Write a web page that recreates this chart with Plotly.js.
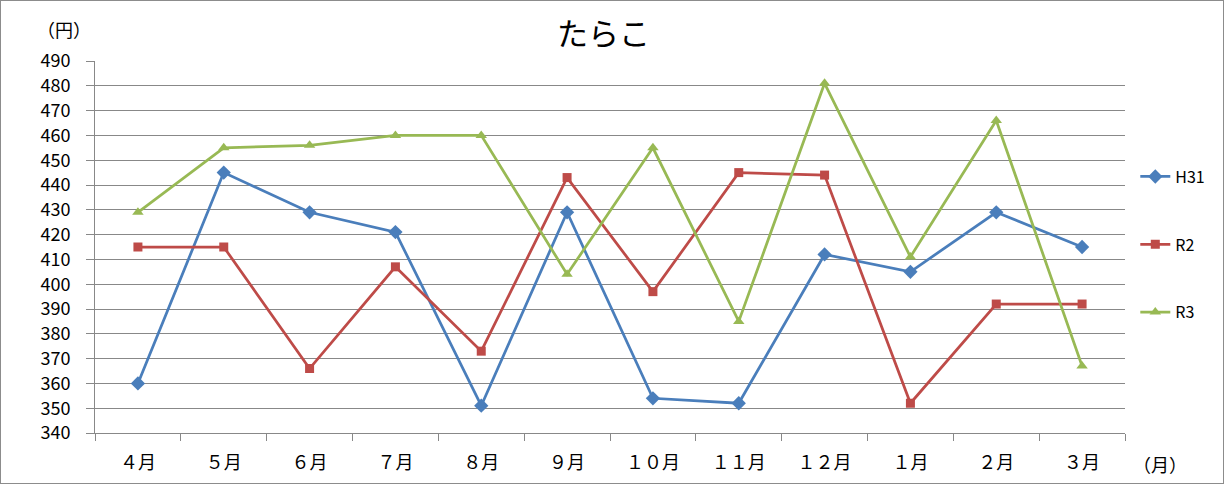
<!DOCTYPE html>
<html>
<head>
<meta charset="utf-8">
<script src="https://cdn.plot.ly/plotly-3.0.1.min.js"></script>
<style>
  body { margin: 0; background: #fff; }
  #wrap { position: relative; width: 1224px; height: 484px; }
  #frame { position: absolute; left: 0; top: 0; width: 1224px; height: 484px; box-sizing: border-box; border: 1px solid #8c8c8c; pointer-events: none; }
</style>
</head>
<body>
<div id="wrap">
  <div id="chart" style="width:1224px;height:484px;"></div>
  <div id="frame"></div>
</div>
<script>
let months = ['４月', '５月', '６月', '７月', '８月', '９月', '１０月', '１１月', '１２月', '１月', '２月', '３月'];
let h31 = [360, 445, 429, 421, 351, 429, 354, 352, 412, 405, 429, 415];
let r2 = [415, 415, 366, 407, 373, 443, 397, 445, 444, 352, 392, 392];
let r3 = [429, 455, 456, 460, 460, 404, 455, 385, 481, 411, 466, 367];

let jp = '"Noto Sans CJK JP", "Noto Sans", sans-serif';

function series(name, y, color, symbol, size) {
    return {
        type: 'scatter',
        mode: 'lines+markers',
        name: name,
        legendgroup: name,
        x: months,
        y: y,
        line: { color: color, width: 2.75 },
        marker: { color: color, symbol: symbol, size: size }
    };
}

let data = [
    series('H31', h31, '#4a7ebb', 'diamond', 11),
    series('R2', r2, '#be4b48', 'square', 9),
    series('R3', r3, '#98b954', 'triangle-up', 10)
];

let layout = {
    width: 1224,
    height: 484,
    margin: { l: 95, r: 99, t: 61, b: 51 },
    paper_bgcolor: '#fff',
    plot_bgcolor: '#fff',
    font: { family: jp, size: 18, color: '#000' },
    title: {
        text: 'たらこ',
        font: { family: jp, size: 31, color: '#000' },
        x: 0.493, xanchor: 'center',
        y: 0.93, yanchor: 'middle'
    },
    xaxis: {
        type: 'category',
        range: [-0.5, 11.5],
        tickson: 'boundaries',
        showgrid: false,
        showline: true,
        linecolor: '#888',
        linewidth: 1,
        ticks: 'outside',
        ticklen: 7,
        tickcolor: '#888',
        ticklabelstandoff: 13,
        tickfont: { family: jp, size: 18 },
        fixedrange: true
    },
    yaxis: {
        range: [340, 490],
        dtick: 10,
        showgrid: true,
        gridcolor: '#888',
        gridwidth: 1,
        showline: true,
        linecolor: '#888',
        zeroline: false,
        ticks: 'outside',
        ticklen: 8,
        tickcolor: '#888',
        ticklabelstandoff: 12,
        tickfont: { family: jp, size: 18 },
        fixedrange: true
    },
    showlegend: true,
    legend: {
        x: 1.01, xanchor: 'left',
        y: 0.735, yanchor: 'top',
        font: { family: jp, size: 16 },
        tracegroupgap: 44,
        itemwidth: 30,
        bgcolor: 'rgba(0,0,0,0)'
    },
    annotations: [
        { xref: 'paper', yref: 'paper', x: -0.03, y: 1.085, text: '（円）', showarrow: false, xanchor: 'center', yanchor: 'middle', font: { family: jp, size: 18 } },
        { xref: 'paper', yref: 'paper', x: 1.034, y: -0.083, text: '（月）', showarrow: false, xanchor: 'center', yanchor: 'middle', font: { family: jp, size: 18 } }
    ]
};

Plotly.newPlot('chart', data, layout, { displayModeBar: false, staticPlot: true });
</script>
</body>
</html>
